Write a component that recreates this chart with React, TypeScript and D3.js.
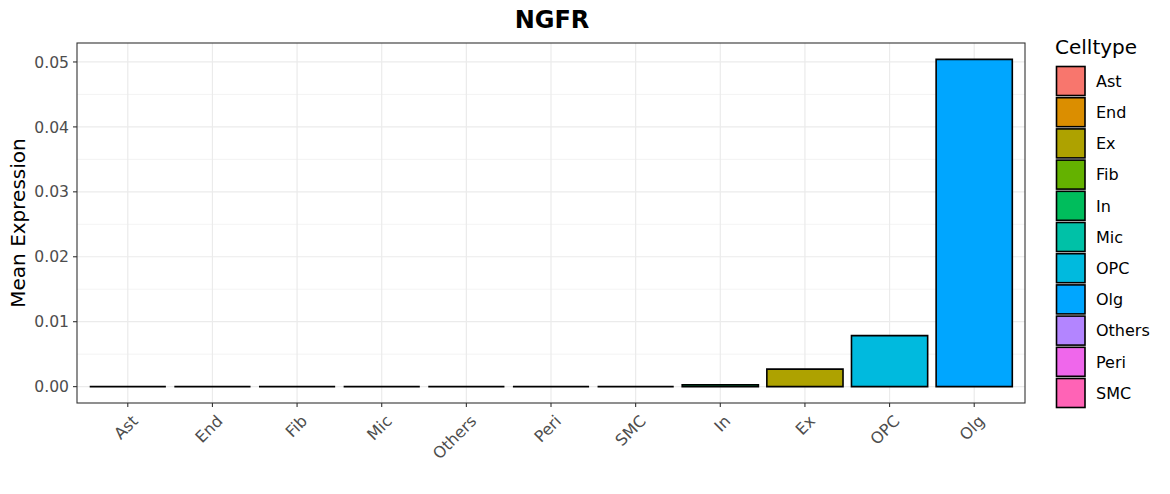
import React from "react";
import * as d3 from "d3";

const title = "NGFR";
const categories = ["Ast", "End", "Fib", "Mic", "Others", "Peri", "SMC", "In", "Ex", "OPC", "Olg"];
const values = [0, 0, 0, 0, 0, 0, 0, 0.0003, 0.0027, 0.00785, 0.0504];
const legendLabels = ["Ast", "End", "Ex", "Fib", "In", "Mic", "OPC", "Olg", "Others", "Peri", "SMC"];
const legendColors = ["#F8766D", "#DB8E00", "#AEA200", "#64B200", "#00BD5C", "#00C1A7", "#00BADE", "#00A6FF", "#B385FF", "#EF67EB", "#FF63B6"];
const yTicks = [0, 0.01, 0.02, 0.03, 0.04, 0.05];

export default function App() {
  const W = 1170, H = 494;
  const L = 77, R = 1025, T = 43, B = 403;
  const n = categories.length;
  const unit = (R - L) / (n - 1 + 1.2);
  const x = d3.scalePoint<string>().domain(categories).range([L + 0.6 * unit, R - 0.6 * unit]);
  const bw = 0.9 * unit;
  const y = d3.scaleLinear().domain([-0.00252, 0.05292]).range([B, T]);
  const colorOf = (c: string) => legendColors[legendLabels.indexOf(c)];
  const minor = yTicks.slice(0, -1).map((t) => t + 0.005);
  const font = "DejaVu Sans, sans-serif";
  return (
    <svg width={W} height={H} style={{ position: "absolute", left: 0, top: 0 }} fontFamily={font}>
      <rect x={0} y={0} width={W} height={H} fill="white" />
      <text x={(L + R) / 2 + 1} y={28} textAnchor="middle" fontSize={24} fontWeight="bold" fill="black">{title}</text>
      {minor.map((t) => (
        <line key={"m" + t} x1={L} x2={R} y1={y(t)} y2={y(t)} stroke="#EBEBEB" strokeWidth={0.6} />
      ))}
      {yTicks.map((t) => (
        <line key={"g" + t} x1={L} x2={R} y1={y(t)} y2={y(t)} stroke="#EBEBEB" strokeWidth={1.2} />
      ))}
      {categories.map((c) => (
        <line key={"v" + c} x1={x(c)!} x2={x(c)!} y1={T} y2={B} stroke="#EBEBEB" strokeWidth={1.2} />
      ))}
      {categories.map((c, i) => {
        const v = values[i];
        const x0 = x(c)! - bw / 2;
        const y0 = y(0), y1 = y(v);
        const p = d3.path();
        p.moveTo(x0, y0);
        p.lineTo(x0 + bw, y0);
        p.lineTo(x0 + bw, y1);
        p.lineTo(x0, y1);
        p.closePath();
        return (
          <path key={"b" + c} d={p.toString()} fill={colorOf(c)} stroke="black" strokeWidth={1.6} />
        );
      })}
      <rect x={L} y={T} width={R - L} height={B - T} fill="none" stroke="#333333" strokeWidth={1.1} />
      {yTicks.map((t) => (
        <g key={"yt" + t}>
          <line x1={L - 4} x2={L} y1={y(t)} y2={y(t)} stroke="#333333" strokeWidth={1.1} />
          <text x={L - 8} y={y(t)} dy="0.36em" textAnchor="end" fontSize={15.6} fill="#4D4D4D">{t.toFixed(2)}</text>
        </g>
      ))}
      {categories.map((c) => {
        const cx = x(c)!;
        return (
          <g key={"xt" + c}>
            <line x1={cx} x2={cx} y1={B} y2={B + 4} stroke="#333333" strokeWidth={1.1} />
            <text transform={`translate(${cx + 3},${B + 11}) rotate(-45)`} textAnchor="end" dy="0.72em" fontSize={16} fill="#4D4D4D">{c}</text>
          </g>
        );
      })}
      <text transform={`translate(25,${(T + B) / 2}) rotate(-90)`} textAnchor="middle" fontSize={20} fill="black">Mean Expression</text>
      <text x={1055} y={54} fontSize={20} fill="black">Celltype</text>
      {legendLabels.map((l, i) => {
        const cy = 81 + i * 31.2;
        return (
          <g key={"lg" + l}>
            <rect x={1056.5} y={cy - 14.5} width={28.5} height={29} fill={legendColors[i]} stroke="black" strokeWidth={1.6} />
            <text x={1096} y={cy} dy="0.36em" fontSize={16} fill="black">{l}</text>
          </g>
        );
      })}
    </svg>
  );
}
